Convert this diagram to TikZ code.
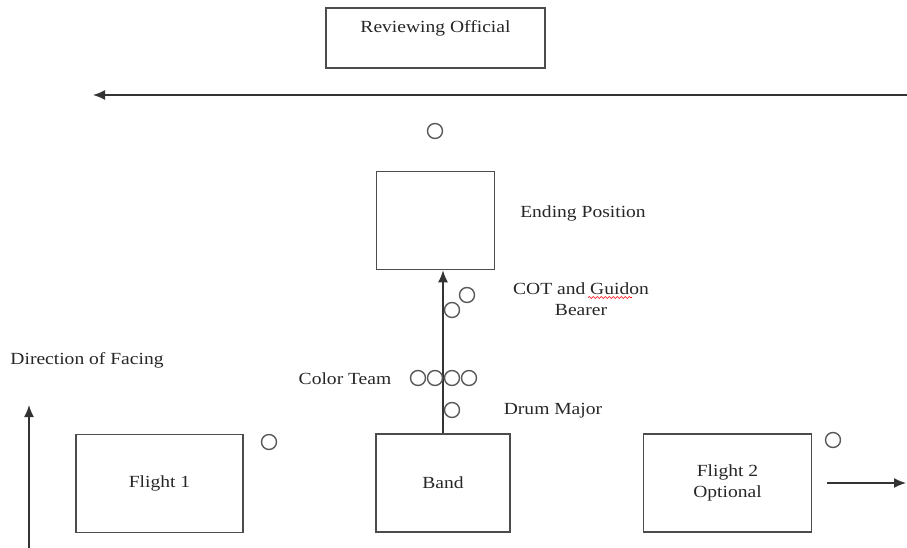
\documentclass[tikz,border=0pt]{standalone}
\usepackage{fontspec}
\setmainfont{Liberation Serif}[FakeStretch=1.15]
\usetikzlibrary{arrows.meta,decorations.pathmorphing}

\begin{document}
\begin{tikzpicture}[x=1pt,y=-1pt,
	stage/.style={draw=black!70,line width=1.6pt,inner sep=0pt},
	cadet/.style={circle,draw=black!65,line width=1.4pt,minimum size=15pt,inner sep=0pt},
	caption/.style={font=\fontsize{17}{21}\selectfont,text=black!85,inner sep=0pt,align=center},
	march/.style={line width=1.5pt,draw=black!80,-{Latex[length=12pt,width=10pt]}}]
	\useasboundingbox (0,0) rectangle (907,548);
	% reviewing stand and line of march
	\node[stage,minimum width=219pt,minimum height=60pt] (official) at (435.5,38) {};
	\node[caption] (officialtext) at (435.5,28) {Reviewing Official};
	\coordinate (lineR) at (907,95);
	\coordinate (lineL) at (93,95);
	\draw[march] (lineR) -- (lineL);
	\node[cadet] (commander) at (435,131) {};
	% ending position
	\node[stage,minimum width=118pt,minimum height=98pt] (ending) at (435.5,220.5) {};
	\node[caption] (endingtext) at (583,213) {Ending Position};
	% units in formation
	\node[stage,minimum width=167pt,minimum height=98pt] (flightA) at (159.5,483.5) {};
	\node[caption] at (flightA) {Flight 1};
	\node[stage,minimum width=134pt,minimum height=98pt] (band) at (443,483) {};
	\node[caption] at (band) {Band};
	\node[stage,minimum width=168pt,minimum height=98pt] (flightB) at (727.5,483) {};
	\node[caption] at (flightB) {Flight 2\\Optional};
	\draw[march] (band.north) -- (band.north |- ending.south);
	% people
	\node[cadet] (cot) at (467,295) {};
	\node[cadet] (guidon) at (452,310) {};
	\foreach \x [count=\i] in {418,435,452,469} \node[cadet] (color\i) at (\x,378) {};
	\node[cadet] (drum) at (452,410) {};
	\node[cadet] (guideA) at (269,442) {};
	\node[cadet] (guideB) at (833,440) {};
	% labels
	\node[caption] (cottext) at (581,299) {COT and Guidon\\Bearer};
	\draw[red,line width=0.6pt,decorate,decoration={snake,amplitude=1pt,segment length=4pt}] (588,297.5) -- (632,297.5);
	\node[caption] (colortext) at (345,379) {Color Team};
	\node[caption] (drumtext) at (553,411) {Drum Major};
	\node[caption] (facingtext) at (87,360) {Direction of Facing};
	% direction of facing and exit
	\coordinate (facingS) at (29,548);
	\coordinate (facingN) at (29,405);
	\draw[march] (facingS) -- (facingN);
	\coordinate (exitW) at (827,483);
	\coordinate (exitE) at (906,483);
	\draw[march] (exitW) -- (exitE);
\end{tikzpicture}
\end{document}
